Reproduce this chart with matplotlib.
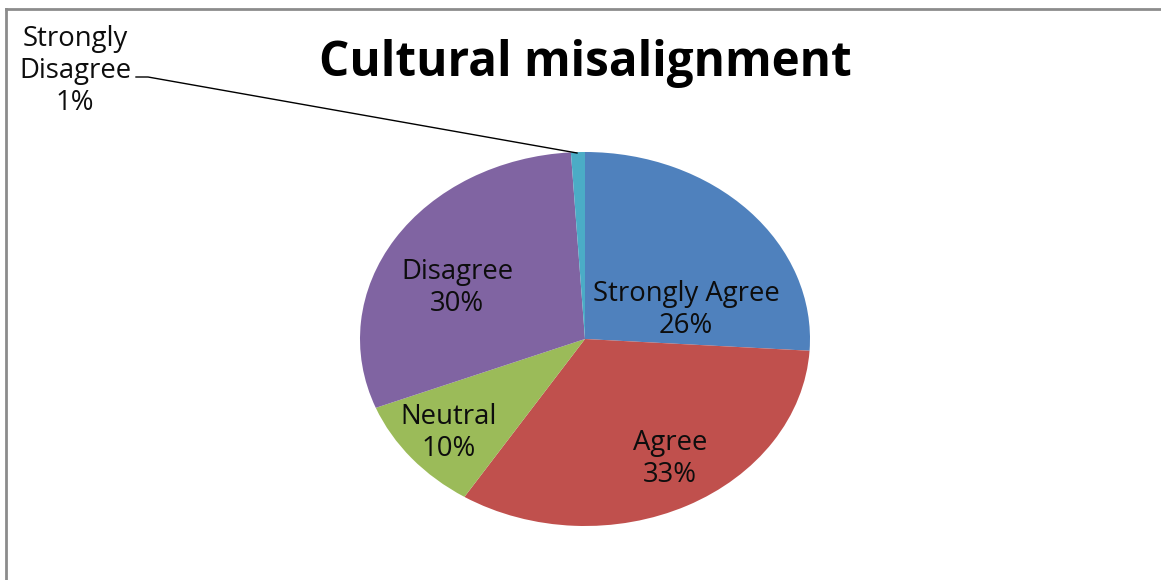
import matplotlib
matplotlib.use("Agg")
import matplotlib.pyplot as plt
from matplotlib.lines import Line2D

# Survey shares, drawn clockwise from 12 o'clock
categories = ["Strongly Agree", "Agree", "Neutral", "Disagree", "Strongly Disagree"]
shares = [26, 33, 10, 30, 1]
colors = ["#4F81BD", "#C0504D", "#9BBB59", "#8064A2", "#4BACC6"]
title = "Cultural misalignment"

W, H = 1161, 580
fig = plt.figure(figsize=(W / 100, H / 100), dpi=100)
ax = fig.add_axes([0, 0, 1, 1])

# pixel geometry of the (slightly flattened) pie
cx, cy, rx, ry = 585, 339, 225, 187

wedges, _ = ax.pie(shares, colors=colors, startangle=90, counterclock=False,
                   wedgeprops=dict(linewidth=0))
ax.set_aspect("auto")
ax.set_xlim(-cx / rx, (W - cx) / rx)
ax.set_ylim(-(H - cy) / ry, cy / ry)
ax.axis("off")


def px(x, y):
    # figure pixel (top-left origin) -> data coords
    return (x - cx) / rx, (cy - y) / ry


font = ["Open Sans", "DejaVu Sans"]
label_size = 19.8
label_pos = {
    "Strongly Agree": (686, 310),
    "Agree": (670, 459),
    "Neutral": (449, 433),
    "Disagree": (457, 288),
}
for name, val in zip(categories, shares):
    if name in label_pos:
        x, y = px(*label_pos[name])
        ax.text(x, y, f"{name}\n{val}%", ha="center", va="center",
                fontsize=label_size, family=font, color="#0d0d0d", linespacing=1.18)

# outside label for the tiny slice, with a leader line
sd = categories[-1]
x, y = px(75, 71)
ax.text(x, y, sd.replace(" ", "\n") + f"\n{shares[-1]}%", ha="center", va="center",
        fontsize=label_size, family=font, color="#0d0d0d", linespacing=1.18)
lx, ly = zip(px(136, 77), px(148, 77), px(577, 153))
ax.plot(lx, ly, color="#000000", linewidth=1)

fig.text(585 / W, 1 - 63 / H, title, ha="center", va="center",
         fontsize=34.3, fontweight="bold", family=font)

# chart area border (top and left edges)
fig.add_artist(Line2D([6 / W, 1], [1 - 9 / H, 1 - 9 / H], color="#8c8c8c", linewidth=2))
fig.add_artist(Line2D([6 / W, 6 / W], [0, 1 - 9 / H], color="#8c8c8c", linewidth=2))

fig.savefig("out.png", dpi=100)
